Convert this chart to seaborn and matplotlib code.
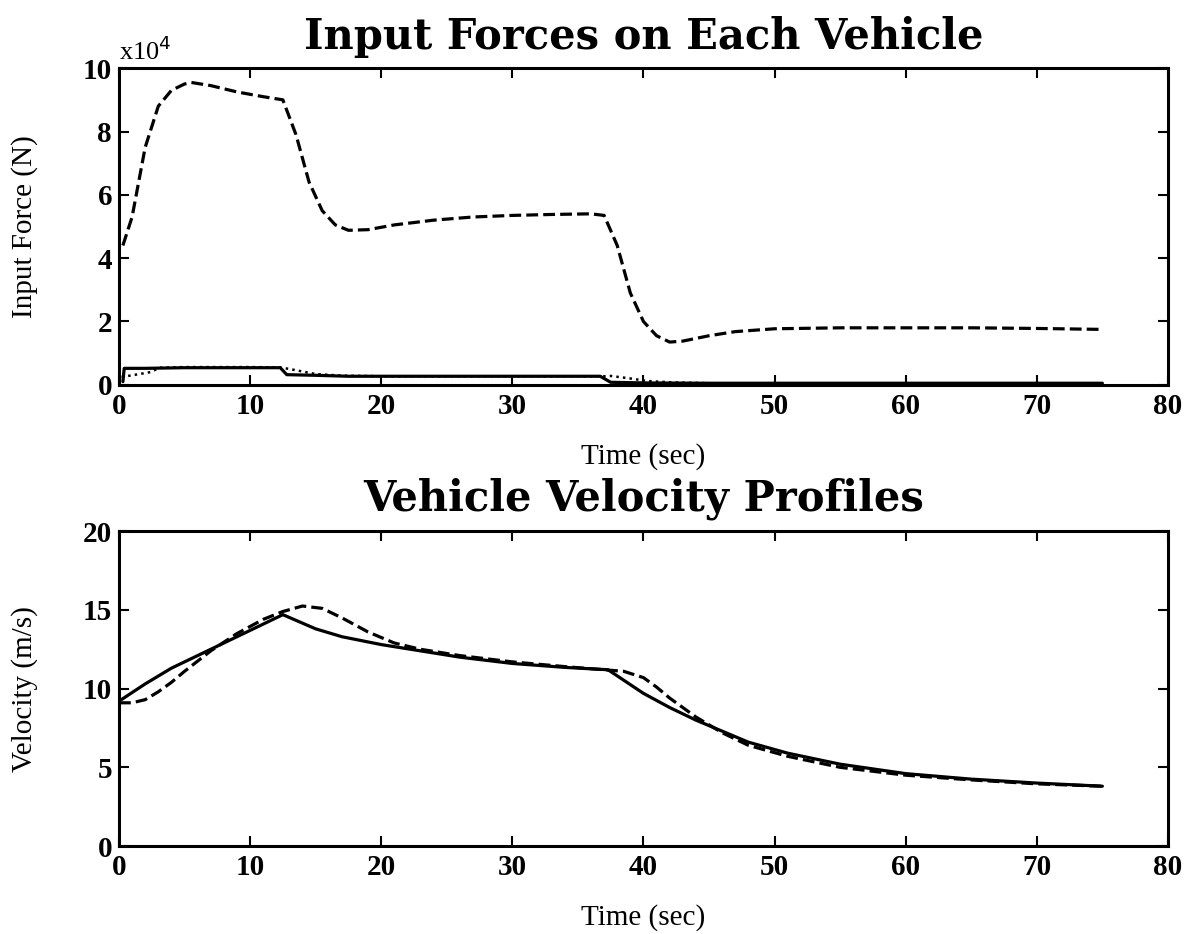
import numpy as np
import pandas as pd
import matplotlib.pyplot as plt
import seaborn as sns

# Input force traces (units of 1e4 N)
t_dash = [0.3, 1, 2, 3, 4, 5, 5.5, 7, 9, 11, 12.5, 13.5, 14.5, 15.5, 16.5, 17.5, 19, 21, 24, 27, 30, 33, 36, 37, 38, 39, 40, 41, 42, 43, 45, 47, 50, 55, 60, 65, 70, 75]
f_dash = [4.4, 5.3, 7.5, 8.8, 9.3, 9.5, 9.55, 9.45, 9.25, 9.1, 9.0, 7.9, 6.4, 5.5, 5.05, 4.88, 4.9, 5.05, 5.2, 5.3, 5.35, 5.38, 5.4, 5.35, 4.4, 2.9, 2.0, 1.55, 1.35, 1.38, 1.55, 1.68, 1.77, 1.8, 1.8, 1.8, 1.78, 1.75]

t_solid = [0.3, 0.4, 2, 5, 10, 12.3, 12.8, 15, 17.5, 20, 30, 36.7, 37.5, 40, 45, 60, 75]
f_solid = [0.1, 0.52, 0.52, 0.54, 0.54, 0.54, 0.32, 0.3, 0.27, 0.27, 0.27, 0.27, 0.08, 0.06, 0.05, 0.05, 0.05]

t_dot = [0.2, 1, 2.4, 3.1, 5, 10, 12.3, 13, 14, 15, 17, 20, 30, 37, 37.5, 39, 40.3, 42, 45, 60, 75]
f_dot = [0.25, 0.3, 0.4, 0.54, 0.56, 0.56, 0.55, 0.5, 0.42, 0.34, 0.29, 0.27, 0.27, 0.27, 0.28, 0.2, 0.12, 0.08, 0.05, 0.04, 0.04]

# Velocity traces (m/s)
t_v1 = [0, 2, 4, 6, 8, 10, 12.5, 15, 17, 20, 23, 26, 30, 34, 37.3, 40, 42, 44, 46, 48, 51, 55, 60, 65, 70, 75]
v1 = [9.2, 10.3, 11.3, 12.1, 12.9, 13.7, 14.7, 13.8, 13.3, 12.8, 12.4, 12.0, 11.6, 11.35, 11.2, 9.7, 8.8, 8.0, 7.3, 6.6, 5.9, 5.2, 4.6, 4.25, 4.0, 3.8]

t_v2 = [0, 1, 2, 3, 4, 5, 7, 9, 11, 12.5, 14, 15.5, 17, 19, 21, 23, 26, 30, 34, 37, 38.5, 40, 41, 42, 44, 46, 48, 51, 55, 60, 65, 70, 75]
v2 = [9.1, 9.1, 9.3, 9.8, 10.4, 11.1, 12.4, 13.5, 14.4, 14.9, 15.25, 15.1, 14.5, 13.6, 12.9, 12.5, 12.1, 11.7, 11.4, 11.2, 11.1, 10.7, 10.1, 9.4, 8.2, 7.2, 6.4, 5.7, 5.0, 4.5, 4.2, 3.95, 3.8]

sns.set_style("ticks")
plt.rcParams['font.family'] = ['Liberation Serif', 'DejaVu Serif']
plt.rcParams.update({'text.color': 'black', 'axes.labelcolor': 'black',
                     'xtick.color': 'black', 'ytick.color': 'black',
                     'axes.edgecolor': 'black'})

fig = plt.figure(figsize=(11.92, 9.34), dpi=100)
ax1 = fig.add_axes([0.0998, 0.588, 0.880, 0.339])
ax2 = fig.add_axes([0.0998, 0.0942, 0.880, 0.337])

sns.lineplot(x=t_dash, y=f_dash, ax=ax1, color='black', linestyle='--', lw=2.3, dashes=(2.6, 1.6))
sns.lineplot(x=t_solid, y=f_solid, ax=ax1, color='black', lw=2.3)
sns.lineplot(x=t_dot, y=f_dot, ax=ax1, color='black', linestyle=':', lw=1.8)

sns.lineplot(x=t_v1, y=v1, ax=ax2, color='black', lw=2.3)
sns.lineplot(x=t_v2, y=v2, ax=ax2, color='black', linestyle='--', lw=2.3, dashes=(2.6, 1.6))

title_font = dict(family=['DejaVu Serif'], fontweight='bold', fontsize=30)
ax1.set_title('Input Forces on Each Vehicle', pad=14, **title_font)
ax2.set_title('Vehicle Velocity Profiles', pad=15, **title_font)

ax1.set_xlim(0, 80)
ax1.set_ylim(0, 10)
ax1.set_yticks([0, 2, 4, 6, 8, 10])
ax2.set_xlim(0, 80)
ax2.set_ylim(0, 20)
ax2.set_yticks([0, 5, 10, 15, 20])

for ax in (ax1, ax2):
    ax.set_xticks(range(0, 81, 10))
    ax.tick_params(direction='in', top=True, right=True, length=7, width=1.5, labelsize=21)
    ax.tick_params(axis='x', pad=6)
    ax.tick_params(axis='y', pad=5)
    for lab in ax.get_xticklabels() + ax.get_yticklabels():
        lab.set_fontweight('bold')
    for s in ax.spines.values():
        s.set_linewidth(2.2)
        s.set_visible(True)
    ax.set_xlabel('Time (sec)', fontsize=21)
    ax.xaxis.set_label_coords(0.5, -0.185)

ax1.set_ylabel('Input Force (N)', fontsize=21)
ax2.set_ylabel('Velocity (m/s)', fontsize=21)
ax1.yaxis.set_label_coords(-0.077, 0.5)
ax2.yaxis.set_label_coords(-0.077, 0.5)
ax1.text(0.0, 1.01, 'x10$^4$', transform=ax1.transAxes, fontsize=19, ha='left', va='bottom')

fig.savefig('out.png', dpi=100)
